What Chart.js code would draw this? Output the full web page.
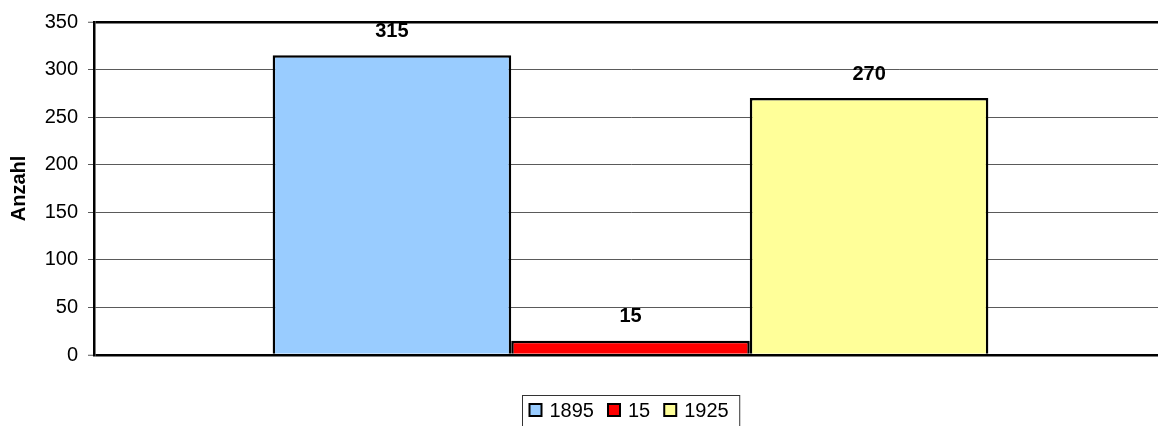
<!DOCTYPE html>
<html>
<head>
<meta charset="utf-8">
<script src="https://cdn.jsdelivr.net/npm/chart.js@4"></script>
<style>
html,body{margin:0;padding:0;background:#fff;overflow:hidden;}
#wrap{width:1158px;height:426px;overflow:hidden;position:relative;}
canvas{display:block;}
</style>
</head>
<body>
<div id="wrap"><canvas id="c" width="1167" height="426"></canvas></div>
<script>
const categories = [''];
const seriesLabels = ['1895', '15', '1925'];
const seriesValues = [[315], [15], [270]];
const seriesColors = ['#99CCFF', '#FF0000', '#FFFF99'];
const yTicks = [0, 50, 100, 150, 200, 250, 300, 350];
const yTitle = 'Anzahl';

const FONT = '"Liberation Sans", Arial, sans-serif';
const FS = 20;

const datasets = seriesLabels.map((l, i) => ({
  label: l,
  data: seriesValues[i],
  backgroundColor: seriesColors[i],
  borderColor: '#000',
  borderWidth: 2.5,
  borderSkipped: 'start',
  categoryPercentage: 0.667,
  barPercentage: 1.0
}));

const extras = {
  id: 'extras',
  afterDatasetsDraw(chart) {
    const ctx = chart.ctx;
    ctx.save();
    ctx.font = 'bold ' + FS + 'px ' + FONT;
    ctx.fillStyle = '#000';
    ctx.textAlign = 'center';
    ctx.textBaseline = 'middle';
    chart.data.datasets.forEach((ds, i) => {
      const el = chart.getDatasetMeta(i).data[0];
      ctx.fillText(String(ds.data[0]), el.x, el.y - 24);
    });
    ctx.restore();
  },
  afterDraw(chart) {
    const ctx = chart.ctx;
    const ca = chart.chartArea;
    ctx.save();
    ctx.font = FS + 'px ' + FONT;
    const padL = 7, sq = 12, gapT = 8, gapI = 14, padR = 11;
    let total = padL + padR;
    chart.data.datasets.forEach((ds, i) => {
      total += sq + gapT + ctx.measureText(ds.label).width;
      if (i < chart.data.datasets.length - 1) total += gapI;
    });
    const cx = (ca.left + ca.right) / 2;
    const left = Math.round(cx - total / 2) + 0.5;
    const top = 395.5;
    ctx.strokeStyle = '#333';
    ctx.lineWidth = 1;
    ctx.strokeRect(left, top, total, 40);
    let x = left + padL;
    const cy = 410;
    ctx.textBaseline = 'middle';
    ctx.textAlign = 'left';
    chart.data.datasets.forEach((ds, i) => {
      ctx.fillStyle = ds.backgroundColor;
      ctx.fillRect(x, cy - sq / 2, sq, sq);
      ctx.strokeStyle = '#000';
      ctx.lineWidth = 2;
      ctx.strokeRect(x, cy - sq / 2, sq, sq);
      x += sq + gapT;
      ctx.fillStyle = '#000';
      ctx.fillText(ds.label, x, cy + 1);
      x += ctx.measureText(ds.label).width + gapI;
    });
    ctx.restore();
  }
};

new Chart(document.getElementById('c'), {
  type: 'bar',
  data: { labels: categories, datasets },
  options: {
    responsive: false,
    animation: false,
    devicePixelRatio: 1,
    layout: { padding: { top: 21, bottom: 71, left: 0, right: 0 } },
    plugins: { legend: { display: false }, tooltip: { enabled: false } },
    scales: {
      x: { display: false },
      y: {
        min: 0, max: 350,
        afterBuildTicks(scale) { scale.ticks = yTicks.map(v => ({ value: v })); },
        afterFit(scale) { scale.width = 94; },
        border: { display: true, color: '#000', width: 2.5 },
        grid: {
          color: c => (c.tick && (c.tick.value === 0 || c.tick.value === 350)) ? '#000' : '#5a5a5a',
          lineWidth: c => (c.tick && (c.tick.value === 0 || c.tick.value === 350)) ? 2.5 : 1,
          tickColor: '#5a5a5a',
          tickWidth: 1,
          tickLength: 6,
          drawTicks: true
        },
        ticks: { color: '#000', padding: 10, font: { family: FONT, size: FS } },
        title: {
          display: true, text: yTitle, color: '#000',
          font: { family: FONT, size: FS, weight: 'bold' },
          padding: { top: 7, bottom: 0 }
        }
      }
    }
  },
  plugins: [extras]
});
</script>
</body>
</html>
